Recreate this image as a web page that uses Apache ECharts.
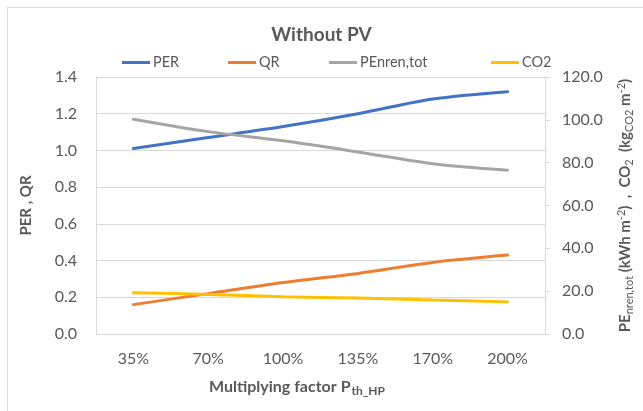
<!DOCTYPE html>
<html>
<head>
<meta charset="utf-8">
<script src="https://cdn.jsdelivr.net/npm/echarts@6/dist/echarts.min.js"></script>
<style>
html,body{margin:0;padding:0;background:#fff;overflow:hidden;}
#frame{position:absolute;left:7px;top:7px;width:700px;height:500px;border:1px solid #d9d9d9;}
#chart{position:absolute;left:0;top:0;width:643px;height:411px;}
</style>
</head>
<body>
<div id="frame"></div>
<div id="chart"></div>
<script>
const categories = ['35%', '70%', '100%', '135%', '170%', '200%'];
const perValues = [1.01, 1.07, 1.13, 1.20, 1.28, 1.32];
const qrValues = [0.16, 0.22, 0.28, 0.33, 0.39, 0.43];
const penrenValues = [100.3, 94.5, 90.2, 85.0, 79.5, 76.5];
const co2Values = [19.3, 18.5, 17.4, 16.8, 15.9, 15.0];
const seriesNames = ['PER', 'QR', 'PEnren,tot', 'CO2'];
const seriesColors = ['#4472C4', '#ED7D31', '#A5A5A5', '#FFC000'];

const FONT = 'Lato';
const TXT = '#595959';
const chart = echarts.init(document.getElementById('chart'));

const legendLefts = [117, 223, 324, 486];
const legends = seriesNames.map((n, i) => ({
  data: [n],
  left: legendLefts[i],
  top: 50,
  icon: 'rect',
  itemWidth: 28,
  itemHeight: 3,
  itemGap: 3,
  textStyle: { fontFamily: FONT, fontSize: 14.5, color: TXT, padding: [0,0,0,-2] }
}));

function mkSeries(i, data, axis) {
  return {
    name: seriesNames[i], type: 'line', data: data, yAxisIndex: axis,
    smooth: 0.3, showSymbol: false, symbol: 'none',
    lineStyle: { width: 3, color: seriesColors[i], cap: 'round' },
    itemStyle: { color: seriesColors[i] }
  };
}

chart.setOption({
  animation: false,
  title: {
    text: 'Without PV', left: 'center', top: 20,
    textStyle: { fontFamily: FONT, fontSize: 19, fontWeight: 'bold', color: TXT }
  },
  legend: legends,
  grid: { left: 96, right: 98, top: 77, bottom: 77 },
  xAxis: {
    type: 'category', data: categories, boundaryGap: true,
    axisLine: { lineStyle: { color: '#d9d9d9' } },
    axisTick: { show: false },
    axisLabel: { fontFamily: FONT, fontSize: 16, color: TXT, margin: 17 },
    name: '{b|Multiplying factor P}{s|th_HP}',
    nameLocation: 'middle', nameGap: 42,
    nameTextStyle: {
      padding: [0, 47, 0, 0],
      rich: {
        b: { fontFamily: FONT, fontSize: 16, fontWeight: 'bold', color: TXT, lineHeight: 22, verticalAlign: 'middle' },
        s: { fontFamily: FONT, fontSize: 12, fontWeight: 'bold', color: TXT, padding: [9,0,0,1] }
      }
    }
  },
  yAxis: [
    {
      type: 'value', min: 0, max: 1.4, interval: 0.2,
      axisLine: { show: true, lineStyle: { color: '#d9d9d9' } },
      axisTick: { show: false },
      splitLine: { lineStyle: { color: '#d9d9d9' } },
      axisLabel: { fontFamily: FONT, fontSize: 16, color: TXT, margin: 19, formatter: v => v.toFixed(1) },
      name: 'PER , QR', nameLocation: 'middle', nameRotate: 90, nameGap: 62,
      nameTextStyle: { fontFamily: FONT, fontSize: 15, fontWeight: 'bold', color: TXT }
    },
    {
      type: 'value', min: 0, max: 120, interval: 20, position: 'right',
      axisLine: { show: true, lineStyle: { color: '#d9d9d9' } },
      axisTick: { show: true, length: 5, lineStyle: { color: '#d9d9d9' } },
      splitLine: { show: false },
      axisLabel: { fontFamily: FONT, fontSize: 16, color: TXT, margin: 17, formatter: v => v.toFixed(1) },
      name: '{b|PE}{s|nren,tot}{b| (kWh m}{p|-2}{b|)  ,  CO}{s|2}{b|  (kg}{s|CO2}{b| m}{p|-2}{b|)}',
      nameLocation: 'middle', nameRotate: 90, nameGap: 70,
      nameTextStyle: {
        rich: {
          b: { fontFamily: FONT, fontSize: 15, fontWeight: 'bold', color: TXT, lineHeight: 20 },
          s: { fontFamily: FONT, fontSize: 11, color: TXT, padding: [8,0,0,0] },
          p: { fontFamily: FONT, fontSize: 11, color: TXT, padding: [0,0,8,0] }
        }
      }
    }
  ],
  series: [
    mkSeries(0, perValues, 0),
    mkSeries(1, qrValues, 0),
    mkSeries(2, penrenValues, 1),
    mkSeries(3, co2Values, 1)
  ]
});
</script>
</body>
</html>
